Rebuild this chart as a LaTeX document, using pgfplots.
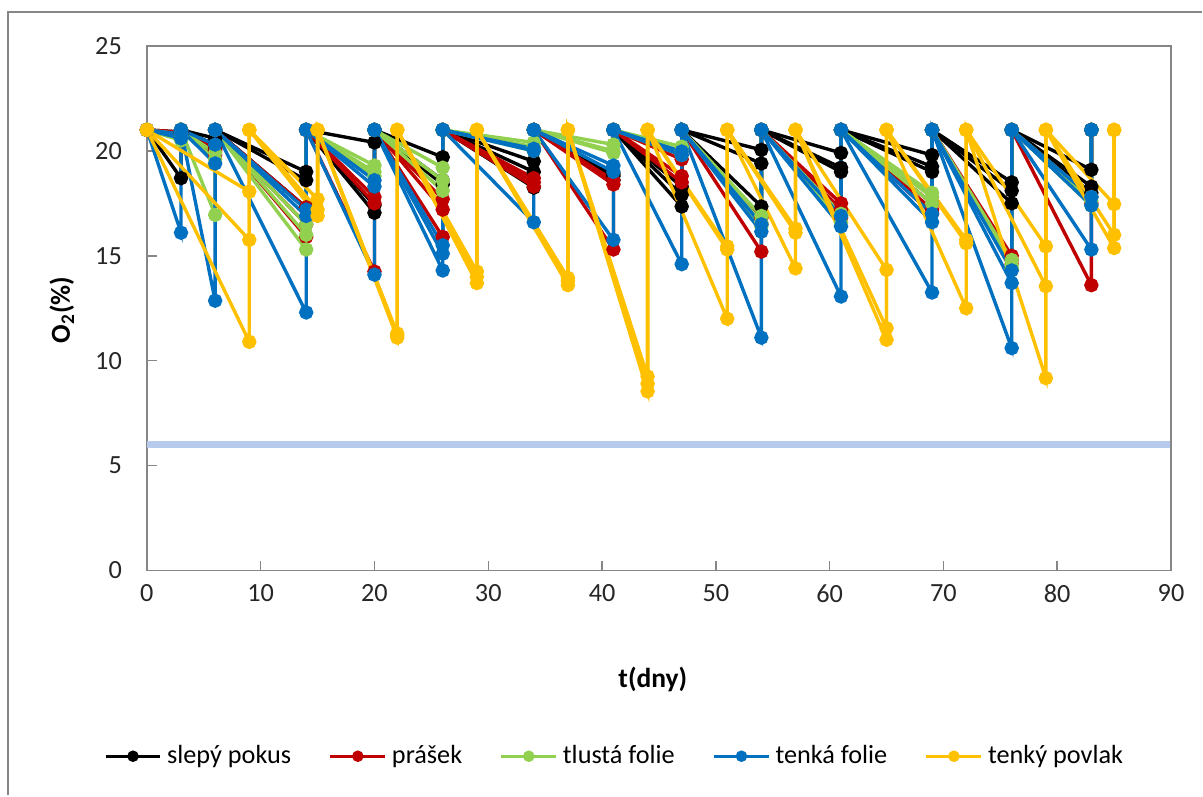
\documentclass[border=0pt]{standalone}
\usepackage{fontspec}
\setmainfont{Carlito}
\usepackage{pgfplots}
\pgfplotsset{compat=1.18}
\usepackage{pgfplotstable}
\usetikzlibrary{calc}
\definecolor{cblack}{RGB}{0,0,0}
\definecolor{cred}{RGB}{192,0,0}
\definecolor{cgreen}{RGB}{146,208,80}
\definecolor{cblue}{RGB}{0,112,192}
\definecolor{cyellow}{RGB}{255,192,0}
\definecolor{framegray}{RGB}{134,134,134}
\definecolor{refline}{RGB}{181,202,236}

% O2 values, three replicates per treatment; 21 = opened again
\pgfplotstableread{
x a b c
0 21 21 21
3 18.7 20.8 20.9
3 21 21 21
6 20.3 20.6 20.1
6 21 21 21
14 19.0 18.6 17.3
14 21 21 21
20 20.4 17.4 17.05
20 21 21 21
26 19.7 18.6 18.4
26 21 21 21
34 19.5 19.0 18.25
34 21 21 21
41 18.8 18.6 18.9
41 21 21 21
47 17.35 17.9 18.3
47 21 21 21
54 20.05 19.4 17.35
54 21 21 21
61 19.9 19.2 19.0
61 21 21 21
69 19.8 19.25 19.0
69 21 21 21
76 18.5 18.1 17.5
76 21 21 21
83 19.1 18.3 18.0
83 21 21 21
}\tblack

\pgfplotstableread{
x a b c
0 21 21 21
3 20.8 20.9 20.6
3 21 21 21
6 20.0 19.8 20.2
6 21 21 21
14 15.9 16.5 17.3
14 21 21 21
20 17.8 17.5 14.25
20 21 21 21
26 17.7 15.9 17.2
26 21 21 21
34 18.5 18.7 18.3
34 21 21 21
41 18.4 15.3 18.6
41 21 21 21
47 19.6 18.8 18.5
47 21 21 21
54 15.2 16.8 16.5
54 21 21 21
61 17.5 17.2 16.8
61 21 21 21
69 17.5 17.2 17.0
69 21 21 21
76 14.8 15.0 14.6
76 21 21 21
83 13.6 17.5 17.8
83 21 21 21
}\tred

\pgfplotstableread{
x a b c
0 21 21 21
3 20.7 20.5 20.8
3 21 21 21
6 16.95 19.6 19.9
6 21 21 21
14 15.3 16.5 16.0
14 21 21 21
20 19.3 19.0 18.8
20 21 21 21
26 19.2 18.1 18.6
26 21 21 21
34 20.4 20.2 20.0
34 21 21 21
41 19.9 20.3 20.0
41 21 21 21
47 20.2 20.0 19.8
47 21 21 21
54 16.9 16.6 16.4
54 21 21 21
61 16.9 17.0 16.6
61 21 21 21
69 18.0 17.5 17.8
69 21 21 21
76 14.57 14.8 14.4
76 21 21 21
83 17.6 17.8 17.4
83 21 21 21
}\tgreen

\pgfplotstableread{
x a b c
0 21 21 21
3 16.1 20.8 20.6
3 21 21 21
6 19.4 12.86 20.3
6 21 21 21
14 16.9 12.3 17.2
14 21 21 21
20 18.6 14.1 18.3
20 21 21 21
26 15.1 14.3 15.5
26 21 21 21
34 20.1 16.6 20.0
34 21 21 21
41 19.3 15.76 19.0
41 21 21 21
47 19.97 14.6 19.8
47 21 21 21
54 16.15 11.1 16.5
54 21 21 21
61 16.4 13.06 16.9
61 21 21 21
69 16.6 13.25 17.0
69 21 21 21
76 13.7 10.6 14.3
76 21 21 21
83 17.4 15.3 17.8
83 21 21 21
}\tblue

\pgfplotstableread{
x a b c
0 21 21 21
9 18.06 15.76 10.9
9 21 21 21
15 17.7 16.9 17.2
15 21 21 21
22 11.3 11.1 11.2
22 21 21 21
29 14.25 13.7 14.0
29 21 21 21
37 13.95 13.6 13.8
37 21 21 21
44 9.25 8.54 8.9
44 21 21 21
51 15.45 12.0 15.3
51 21 21 21
57 16.3 16.1 14.4
57 21 21 21
65 14.33 11.55 11.0
65 21 21 21
72 15.76 15.6 12.5
72 21 21 21
79 15.45 13.55 9.17
79 21 21 21
85 17.46 16.0 15.37
85 21 21 21
}\tyellow

\pgfplotsset{
  ser/.style={color=#1, line width=1.35pt, mark=*, mark size=2.2pt,
    mark options={solid, fill=#1, draw=#1}},
}

\begin{document}
\begin{tikzpicture}
\begin{axis}[
  scale only axis, width=410pt, height=210pt,
  xmin=0, xmax=90, ymin=0, ymax=25,
  xtick={0,10,...,90}, ytick={0,5,...,25},
  tick align=inside, xtick pos=bottom, ytick pos=left,
  axis line style={framegray, line width=0.6pt},
  tick style={framegray, line width=0.6pt}, major tick length=4pt,
  /pgf/number format/assume math mode=true,
  ticklabel style={font=\fontsize{10.5}{12}\selectfont, text=black!85},
  yticklabel style={xshift=-6.5pt},
  xticklabel style={yshift=-2pt},
  xlabel={\textbf{t(dny)}}, ylabel={\textbf{O\textsubscript{2}(\%)}},
  label style={font=\fontsize{11}{13}\selectfont},
  xlabel style={at={(axis description cs:0.494,-0.207)}, anchor=center},
  ylabel style={at={(axis description cs:-0.083,0.497)}, anchor=center},
  clip=false,
  legend columns=5,
  legend cell align=left,
  legend image code/.code={
    \draw[mark repeat=2, mark phase=2, mark size=1.6pt, #1]
      plot coordinates {(0pt,0pt) (11pt,0pt) (22pt,0pt)};},
  legend style={at={(axis description cs:0.458,-0.354)}, anchor=center,
    draw=none, font=\fontsize{10.5}{12}\selectfont,
    /tikz/every even column/.append style={column sep=13pt}},
]
\coordinate (O) at (rel axis cs:0,0);
\addplot[refline, line width=2.8pt, forget plot] coordinates {(0,6) (90,6)};

\addplot[ser=cblack] table[x=x,y=a]{\tblack};
\addlegendentry{slepý pokus}
\addplot[ser=cblack, forget plot] table[x=x,y=b]{\tblack};
\addplot[ser=cblack, forget plot] table[x=x,y=c]{\tblack};

\addplot[ser=cred] table[x=x,y=a]{\tred};
\addlegendentry{prášek}
\addplot[ser=cred, forget plot] table[x=x,y=b]{\tred};
\addplot[ser=cred, forget plot] table[x=x,y=c]{\tred};

\addplot[ser=cgreen] table[x=x,y=a]{\tgreen};
\addlegendentry{tlustá folie}
\addplot[ser=cgreen, forget plot] table[x=x,y=b]{\tgreen};
\addplot[ser=cgreen, forget plot] table[x=x,y=c]{\tgreen};

\addplot[ser=cblue] table[x=x,y=a]{\tblue};
\addlegendentry{tenká folie}
\addplot[ser=cblue, forget plot] table[x=x,y=b]{\tblue};
\addplot[ser=cblue, forget plot] table[x=x,y=c]{\tblue};

\addplot[ser=cyellow] table[x=x,y=a]{\tyellow};
\addlegendentry{tenký povlak}
\addplot[ser=cyellow, forget plot] table[x=x,y=b]{\tyellow};
\addplot[ser=cyellow, forget plot] table[x=x,y=c]{\tyellow};
\end{axis}
% plot-area frame on top/right and the outer chart border
\draw[framegray, line width=0.6pt] ($(O)+(0,210pt)$) -- ($(O)+(410pt,210pt)$) -- ($(O)+(410pt,0)$);
\draw[framegray, line width=0.8pt] ($(O)+(-55.6pt,-90pt)$) -- ($(O)+(-55.6pt,223.6pt)$) -- ($(O)+(422.4pt,223.6pt)$);
\path ($(O)+(-58.8pt,-90pt)$) rectangle ($(O)+(422.4pt,228.4pt)$);
\end{tikzpicture}
\end{document}
